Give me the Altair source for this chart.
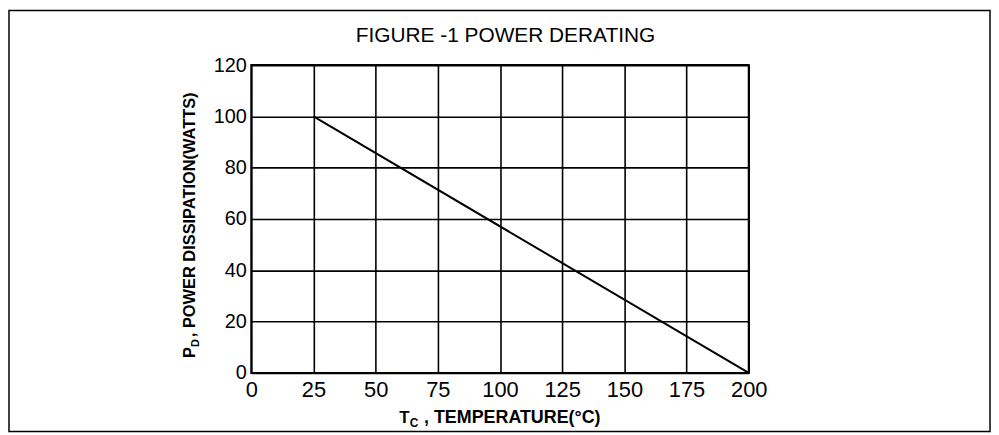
import altair as alt
import pandas as pd

# ---- data ----
temperature = [25, 200]          # T_C (°C)
power = [100, 0]                 # P_D (W)
x_ticks = [0, 25, 50, 75, 100, 125, 150, 175, 200]
y_ticks = [0, 20, 40, 60, 80, 100, 120]
title_text = "FIGURE -1 POWER DERATING"
x_title_main = "T"
x_title_sub = "C"
x_title_rest = ", TEMPERATURE(°C)"
y_title_main = "P"
y_title_sub = "D"
y_title_rest = ", POWER DISSIPATION(WATTS)"

FONT = "Liberation Sans"
W, H = 501, 310

df = pd.DataFrame({"T": temperature, "P": power})

line = alt.Chart(df).mark_line(color="black", strokeWidth=2).encode(
    x=alt.X(
        "T:Q",
        scale=alt.Scale(domain=[0, 200], nice=False, zero=False),
        axis=alt.Axis(
            values=x_ticks, title=None, grid=True, gridColor="black",
            gridWidth=1.6, gridOpacity=1, domain=False, ticks=False,
            labelFontSize=22, labelPadding=7, labelFont=FONT,
            labelColor="black", labelFlush=False, labelOverlap=False,
        ),
    ),
    y=alt.Y(
        "P:Q",
        scale=alt.Scale(domain=[0, 120], nice=False),
        axis=alt.Axis(
            values=y_ticks, title=None, grid=True, gridColor="black",
            gridWidth=1.6, gridOpacity=1, domain=False, ticks=False,
            labelFontSize=20, labelPadding=5, labelFont=FONT,
            labelColor="black", labelFlush=False, labelOverlap=False,
        ),
    ),
)


def txt(s, x, y, size, weight="normal", angle=0, align="left"):
    return alt.Chart(pd.DataFrame({"s": [s]})).mark_text(
        font=FONT, fontSize=size, fontWeight=weight, angle=angle,
        align=align, baseline="alphabetic", color="black",
    ).encode(x=alt.value(x), y=alt.value(y), text="s:N")


border = alt.Chart(pd.DataFrame({"a": [0]})).mark_rect(
    fill="white", fillOpacity=0, stroke="black", strokeWidth=1.5
).encode(
    x=alt.value(-244), x2=alt.value(W + 243),
    y=alt.value(-55), y2=alt.value(H + 59),
)

layers = [
    border,
    line,
    txt(title_text, 256, -23, 21, align="center"),
    txt(x_title_main, 149, 360, 17, "bold"),
    txt(x_title_sub, 159.5, 364, 12, "bold"),
    txt(x_title_rest, 174, 360, 18, "bold"),
    txt(y_title_main, -57, 295, 16.5, "bold", angle=270),
    txt(y_title_sub, -53, 284, 11, "bold", angle=270),
    txt(y_title_rest, -57, 274, 16.5, "bold", angle=270),
]

chart = alt.layer(*layers).properties(
    width=W, height=H,
    padding={"left": 245, "top": 56, "right": 244, "bottom": 60},
    autosize=alt.AutoSizeParams(type="none"),
    background="white",
).configure_view(stroke="black", strokeWidth=2)

chart.save("out.html", embed_options={"renderer": "svg", "actions": False})
